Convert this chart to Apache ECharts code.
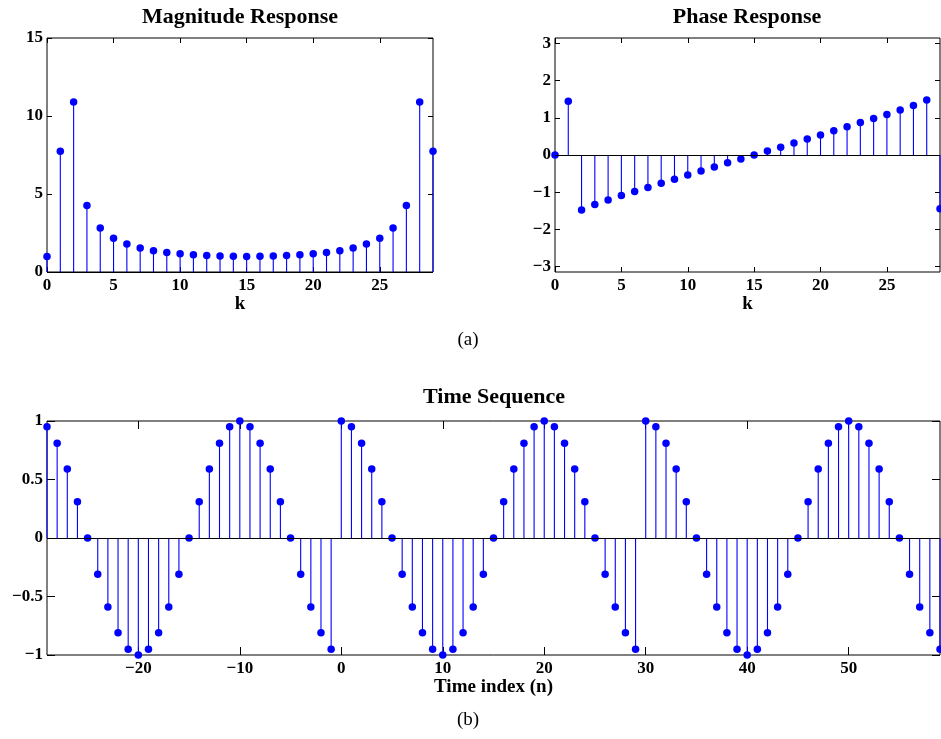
<!DOCTYPE html>
<html>
<head>
<meta charset="utf-8">
<script src="https://cdn.jsdelivr.net/npm/echarts@6/dist/echarts.min.js"></script>
<style>
  html, body { margin: 0; padding: 0; background: #ffffff; }
  #chart { width: 941px; height: 739px; }
</style>
</head>
<body>
<div id="chart"></div>
<script>
// Frequency bin index k of the 30-point DFT
const kIndex = [0, 1, 2, 3, 4, 5, 6, 7, 8, 9, 10, 11, 12, 13, 14,
                15, 16, 17, 18, 19, 20, 21, 22, 23, 24, 25, 26, 27, 28, 29];

// |X(k)|
const magnitude = [1.00, 7.74, 10.89, 4.26, 2.82, 2.17, 1.79, 1.54, 1.37, 1.25,
                   1.17, 1.10, 1.05, 1.02, 1.01, 1.00, 1.01, 1.02, 1.05, 1.10,
                   1.17, 1.25, 1.37, 1.54, 1.79, 2.17, 2.82, 4.26, 10.89, 7.74];

// angle X(k), radians
const phase = [0.00, 1.44, -1.48, -1.33, -1.21, -1.09, -0.98, -0.87, -0.76, -0.65,
               -0.54, -0.43, -0.32, -0.21, -0.11, 0.00, 0.11, 0.21, 0.32, 0.43,
               0.54, 0.65, 0.76, 0.87, 0.98, 1.09, 1.21, 1.33, 1.48, -1.44];

// Periodic time sequence x(n)
const timeIndex = [-29, -28, -27, -26, -25, -24, -23, -22, -21, -20,
                   -19, -18, -17, -16, -15, -14, -13, -12, -11, -10,
                   -9, -8, -7, -6, -5, -4, -3, -2, -1,
                   0, 1, 2, 3, 4, 5, 6, 7, 8, 9,
                   10, 11, 12, 13, 14, 15, 16, 17, 18, 19,
                   20, 21, 22, 23, 24, 25, 26, 27, 28, 29,
                   30, 31, 32, 33, 34, 35, 36, 37, 38, 39,
                   40, 41, 42, 43, 44, 45, 46, 47, 48, 49,
                   50, 51, 52, 53, 54, 55, 56, 57, 58, 59];

const timeValues = [0.95, 0.81, 0.59, 0.31, 0.00, -0.31, -0.59, -0.81, -0.95, -1.00,
                    -0.95, -0.81, -0.59, -0.31, 0.00, 0.31, 0.59, 0.81, 0.95, 1.00,
                    0.95, 0.81, 0.59, 0.31, 0.00, -0.31, -0.59, -0.81, -0.95,
                    1.00, 0.95, 0.81, 0.59, 0.31, 0.00, -0.31, -0.59, -0.81, -0.95,
                    -1.00, -0.95, -0.81, -0.59, -0.31, 0.00, 0.31, 0.59, 0.81, 0.95,
                    1.00, 0.95, 0.81, 0.59, 0.31, 0.00, -0.31, -0.59, -0.81, -0.95,
                    1.00, 0.95, 0.81, 0.59, 0.31, 0.00, -0.31, -0.59, -0.81, -0.95,
                    -1.00, -0.95, -0.81, -0.59, -0.31, 0.00, 0.31, 0.59, 0.81, 0.95,
                    1.00, 0.95, 0.81, 0.59, 0.31, 0.00, -0.31, -0.59, -0.81, -0.95];

// Tick positions
const kTicks = [0, 5, 10, 15, 20, 25];
const magTicks = [0, 5, 10, 15];
const phaseTicks = [-3, -2, -1, 0, 1, 2, 3];
const timeTicks = [-20, -10, 0, 10, 20, 30, 40, 50];
const timeYTicks = [-1, -0.5, 0, 0.5, 1];

const FONT = '"Liberation Serif", "Times New Roman", Times, serif';
const STEM = '#0000ff';

const fmt = v => String(v).replace('-', '\u2212');

const grids = [
  { left: 47,  top: 38,  width: 386, height: 234 },
  { left: 555, top: 38,  width: 385, height: 234 },
  { left: 47,  top: 421, width: 893, height: 234 }
];

const panels = [
  { x: kIndex, y: magnitude, xMin: 0, xMax: 29, yMin: 0, yMax: 15,
    xTicks: kTicks, yTicks: magTicks, tick: 5, xName: 'k', nameGap: 22 },
  { x: kIndex, y: phase, xMin: 0, xMax: 29, yMin: -Math.PI, yMax: Math.PI,
    xTicks: kTicks, yTicks: phaseTicks, tick: 5, xName: 'k', nameGap: 22 },
  { x: timeIndex, y: timeValues, xMin: -29, xMax: 59, yMin: -1, yMax: 1,
    xTicks: timeTicks, yTicks: timeYTicks, tick: 8, xName: 'Time index (n)', nameGap: 21 }
];

const xAxes = [], yAxes = [], series = [];

panels.forEach((p, g) => {
  const labelStyle = { fontFamily: FONT, fontWeight: 'bold', fontSize: 17, color: '#000' };
  const tickStyle = { show: true, inside: true, length: p.tick, lineStyle: { color: '#000', width: 1 } };
  const noLine = { show: false, onZero: false };

  // bottom axis with labels
  xAxes.push({
    type: 'value', gridIndex: g, position: 'bottom', min: p.xMin, max: p.xMax,
    axisLine: noLine, splitLine: { show: false },
    axisTick: Object.assign({ customValues: p.xTicks }, tickStyle),
    axisLabel: Object.assign({ customValues: p.xTicks, formatter: fmt, margin: 5 }, labelStyle),
    name: p.xName, nameLocation: 'middle', nameGap: p.nameGap,
    nameTextStyle: { fontFamily: FONT, fontWeight: 'bold', fontSize: 19, color: '#000' }
  });
  // top axis: inward ticks only
  xAxes.push({
    type: 'value', gridIndex: g, position: 'top', min: p.xMin, max: p.xMax,
    axisLine: noLine, splitLine: { show: false }, axisLabel: { show: false },
    axisTick: Object.assign({ customValues: p.xTicks }, tickStyle)
  });
  // left axis with labels
  yAxes.push({
    type: 'value', gridIndex: g, position: 'left', min: p.yMin, max: p.yMax,
    axisLine: noLine, splitLine: { show: false },
    axisTick: Object.assign({ customValues: p.yTicks }, tickStyle),
    axisLabel: Object.assign({ customValues: p.yTicks, formatter: fmt, margin: 4 }, labelStyle)
  });
  // right axis: inward ticks only
  yAxes.push({
    type: 'value', gridIndex: g, position: 'right', min: p.yMin, max: p.yMax,
    axisLine: noLine, splitLine: { show: false }, axisLabel: { show: false },
    axisTick: Object.assign({ customValues: p.yTicks }, tickStyle)
  });

  const pts = p.x.map((xv, i) => [xv, p.y[i]]);

  // stems from the zero baseline to each sample
  series.push({
    type: 'custom', xAxisIndex: 2 * g, yAxisIndex: 2 * g, data: pts, z: 2,
    encode: { x: 0, y: 1 },
    renderItem: (params, api) => {
      const tip = api.coord([api.value(0), api.value(1)]);
      const base = api.coord([api.value(0), 0]);
      return {
        type: 'line',
        shape: { x1: tip[0], y1: base[1], x2: tip[0], y2: tip[1] },
        style: { stroke: STEM, lineWidth: 1.1 }
      };
    },
    markLine: {
      silent: true, symbol: ['none', 'none'], label: { show: false },
      lineStyle: { color: '#000', width: 1, type: 'solid' },
      data: [{ yAxis: 0 }]
    }
  });
  // filled circle at each sample
  series.push({
    type: 'scatter', xAxisIndex: 2 * g, yAxisIndex: 2 * g, data: pts, z: 4,
    symbol: 'circle', symbolSize: 7.5, clip: false,
    itemStyle: { color: STEM, opacity: 1 }
  });
});

const titleStyle = { fontFamily: FONT, fontWeight: 'bold', fontSize: 22, color: '#000' };
const captionStyle = { fontFamily: FONT, fontWeight: 'normal', fontSize: 19, color: '#000' };

const option = {
  animation: false,
  backgroundColor: '#ffffff',
  title: [
    { text: 'Magnitude Response', left: 240, top: 6, padding: 0, textStyle: titleStyle },
    { text: 'Phase Response', left: 747, top: 6, padding: 0, textStyle: titleStyle },
    { text: '(a)', left: 468, top: 331, padding: 0, textStyle: captionStyle },
    { text: 'Time Sequence', left: 494, top: 386, padding: 0, textStyle: titleStyle },
    { text: '(b)', left: 468, top: 711, padding: 0, textStyle: captionStyle }
  ],
  grid: grids.map(g => Object.assign({ show: true, borderColor: '#000', borderWidth: 1, containLabel: false }, g)),
  xAxis: xAxes,
  yAxis: yAxes,
  series: series
};

// center each title on its x position
option.title.forEach(t => { t.textAlign = 'center'; });

const chart = echarts.init(document.getElementById('chart'), null, { renderer: 'canvas' });
chart.setOption(option);
</script>
</body>
</html>
